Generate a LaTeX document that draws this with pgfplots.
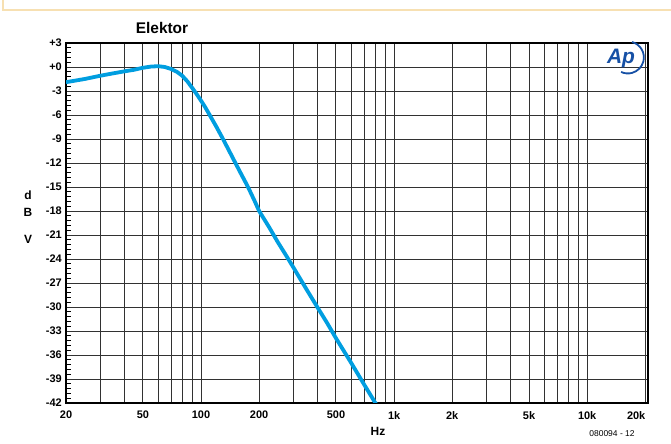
\documentclass[border=0pt]{standalone}
\usepackage{fontspec}
\setmainfont{Liberation Sans}
\usepackage{pgfplots}
\pgfplotsset{compat=1.18}
\definecolor{curve}{RGB}{0,158,224}
\definecolor{framec}{RGB}{247,224,178}
\definecolor{apblue}{RGB}{22,80,165}
\definecolor{gridc}{RGB}{50,50,50}
\begin{document}
\begin{tikzpicture}[x=1bp,y=1bp]
\useasboundingbox (0,0) rectangle (671,444);
\fill[white] (0,0) rectangle (671,444);
\draw[framec, line width=2bp] (3,444) -- (3,434) -- (671,434);
\begin{axis}[
  at={(66bp,41bp)}, anchor=south west,
  scale only axis, width=582bp, height=360bp,
  xmode=log, xmin=20, xmax=20650,
  ymin=-42, ymax=3,
  xtick={20,30,40,50,60,70,80,90,100,200,300,400,500,600,700,800,900,1000,2000,3000,4000,5000,6000,7000,8000,9000,10000,20000},
  xticklabels={20,,,50,,,,,100,200,,,500,,,,,1k,2k,,,5k,,,,,10k,{\makebox[0pt][r]{20k}}},
  minor xtick={},
  ytick={-42,-39,...,3},
  yticklabels={-42,-39,-36,-33,-30,-27,-24,-21,-18,-15,-12,-9,-6,-3,+0,+3},
  minor y tick num=4,
  grid=major,
  major grid style={gridc, line width=0.95bp},
  tick align=inside,
  ytick pos=left,
  xtick style={draw=none},
  ytick style={black, line width=0.8bp},
  major tick length=0bp,
  minor tick length=5bp,
  axis line style={black, line width=1.4bp},
  ticklabel style={font=\bfseries\fontsize{11}{12}\selectfont},
  yticklabel style={anchor=east, inner sep=0pt, xshift=-4bp},
  xticklabel style={anchor=north, inner sep=0pt, yshift=-8bp},
]
\addplot[curve, line width=3.8bp, line join=round] coordinates {
(20,-1.9) (25,-1.5) (30,-1.1) (35,-0.8) (40,-0.55) (45,-0.35) (50,-0.1)
(55,0.05) (60,0.1) (65,0.0) (70,-0.25) (75,-0.6) (80,-1.1) (85,-1.8)
(90,-2.6) (95,-3.4) (100,-4.2) (105,-5.0) (110,-5.85) (120,-7.45)
(130,-9.0) (140,-10.5) (150,-11.9) (160,-13.2) (170,-14.4) (180,-15.6)
(190,-16.8) (200,-18) (225,-20.0) (250,-21.9) (275,-23.5) (300,-25.0)
(350,-27.7) (400,-30) (450,-32.0) (500,-33.9) (600,-37.0) (700,-39.7)
(800,-42) (820,-42.4)
};
\end{axis}
\node[font=\bfseries\fontsize{15.5}{16}\selectfont] at (162,416) {Elektor};
\node[font=\bfseries\fontsize{12}{12}\selectfont] at (28,249) {d};
\node[font=\bfseries\fontsize{12}{12}\selectfont] at (28,232) {B};
\node[font=\bfseries\fontsize{12}{12}\selectfont] at (28,205) {V};
\node[font=\bfseries\fontsize{12}{12}\selectfont] at (378,13) {Hz};
\node[font=\fontsize{8.5}{9}\selectfont] at (612,10) {080094 - 12};
\node[apblue, font=\bfseries\itshape\fontsize{21}{21}\selectfont] at (621,386) {Ap};
\draw[apblue, line width=1.8bp] (632,402) arc[start angle=75, end angle=-115, radius=16];
\end{tikzpicture}
\end{document}
